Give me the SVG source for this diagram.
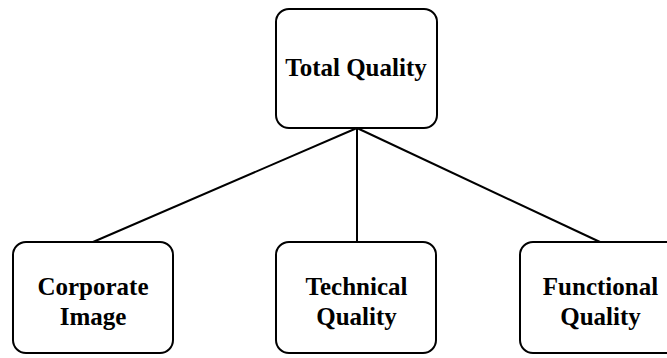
<svg xmlns="http://www.w3.org/2000/svg" width="667" height="358" viewBox="0 0 667 358">
<style>
.box{fill:#fff;stroke:#000;stroke-width:2}
.lbl{font-family:"Liberation Serif","Times New Roman",serif;font-weight:bold;font-size:25px;text-anchor:middle;fill:#000}
.con{stroke:#000;stroke-width:2;fill:none}
</style>
<rect width="667" height="358" fill="#fff"/>
<g id="connectors">
<line class="con" x1="357" y1="128" x2="93" y2="242"/>
<line class="con" x1="357" y1="128" x2="357" y2="242"/>
<line class="con" x1="357" y1="128" x2="600" y2="242"/>
</g>
<g id="total-quality">
<rect class="box" x="276" y="9" width="161" height="119" rx="13"/>
<text class="lbl" x="356" y="76">Total Quality</text>
</g>
<g id="corporate-image">
<rect class="box" x="13" y="242" width="160" height="111" rx="13"/>
<text class="lbl" x="93" y="295">Corporate</text>
<text class="lbl" x="93" y="325">Image</text>
</g>
<g id="technical-quality">
<rect class="box" x="276" y="242" width="160" height="111" rx="13"/>
<text class="lbl" x="356.5" y="295">Technical</text>
<text class="lbl" x="356.5" y="325">Quality</text>
</g>
<g id="functional-quality">
<rect class="box" x="520" y="242" width="161" height="111" rx="13"/>
<text class="lbl" x="600.5" y="295">Functional</text>
<text class="lbl" x="600.5" y="325">Quality</text>
</g>
</svg>
